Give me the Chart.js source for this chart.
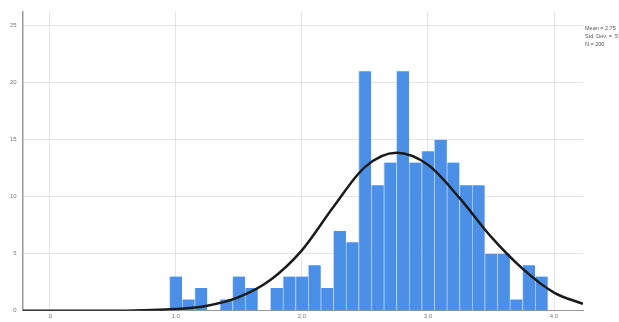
<!DOCTYPE html>
<html>
<head>
<meta charset="utf-8">
<script src="https://cdn.jsdelivr.net/npm/chart.js@4.4.1/dist/chart.umd.min.js"></script>
<style>
  body { margin: 0; background: #fff; }
  #wrap { position: relative; width: 619px; height: 322px; }
  #stats {
    position: absolute; left: 585px; top: 24px;
    font-family: "Liberation Sans", Arial, sans-serif;
    font-size: 5.5px; line-height: 8px; color: #555; white-space: nowrap;
  }
</style>
</head>
<body>
<div id="wrap">
  <canvas id="histChart" width="619" height="322"></canvas>
  <div id="stats">Mean = 2.75<br>Std. Dev. = .576<br>N = 200</div>
</div>
<script>
// ビンの中心値と度数
const binCenters = [1.0, 1.1, 1.2, 1.3, 1.4, 1.5, 1.6, 1.7, 1.8, 1.9,
                    2.0, 2.1, 2.2, 2.3, 2.4, 2.5, 2.6, 2.7, 2.8, 2.9,
                    3.0, 3.1, 3.2, 3.3, 3.4, 3.5, 3.6, 3.7, 3.8, 3.9];
const counts = [3, 1, 2, 0, 1, 3, 2, 0, 2, 3,
                3, 4, 2, 7, 6, 21, 11, 13, 21, 13,
                14, 15, 13, 11, 11, 5, 5, 1, 4, 3];

// 正規曲線（図から読み取った点）
const curveX = [-0.214, 0, 0.25, 0.5, 0.75, 1.0, 1.25, 1.5, 1.75, 2.0,
                2.25, 2.5, 2.75, 3.0, 3.25, 3.5, 3.75, 4.0, 4.23];
const curveY = [0, 0, 0, 0, 0.05, 0.15, 0.45, 1.2, 2.7, 5.3,
                9.1, 12.6, 13.85, 12.8, 9.9, 6.5, 3.7, 1.6, 0.6];

// 目盛り
const xTickValues = [0, 1, 2, 3, 4];
const xTickLabels = ['.0', '1.0', '2.0', '3.0', '4.0'];
const yTickValues = [0, 5, 10, 15, 20, 25];

const tickFont = { family: 'Liberation Sans', size: 6 };

const ctx = document.getElementById('histChart').getContext('2d');

new Chart(ctx, {
  type: 'bar',
  data: {
    datasets: [{
      type: 'line',
      data: curveX.map((x, i) => ({ x: x, y: curveY[i] })),
      borderColor: '#1b1b1b',
      borderWidth: 2.5,
      pointRadius: 0,
      cubicInterpolationMode: 'monotone',
      fill: false,
      order: 0
    }, {
      type: 'bar',
      data: binCenters.map((x, i) => ({ x: x, y: counts[i] })),
      backgroundColor: '#4b8fe7',
      borderColor: 'rgba(150,190,245,0.6)',
      borderWidth: { left: 1, right: 0, top: 0, bottom: 0 },
      barPercentage: 1,
      categoryPercentage: 1,
      grouped: false,
      order: 1
    }]
  },
  options: {
    responsive: false,
    animation: false,
    layout: { padding: { left: 4, right: 36, top: 12, bottom: 0 } },
    scales: {
      x: {
        type: 'linear',
        min: -0.214,
        max: 4.23,
        offset: false,
        afterBuildTicks: scale => { scale.ticks = xTickValues.map(v => ({ value: v })); },
        ticks: {
          font: tickFont,
          color: '#777',
          padding: 2,
          maxRotation: 0,
          callback: (v, i) => xTickLabels[i]
        },
        grid: { color: '#e4e4e4', drawTicks: false, offset: false },
        border: { color: '#999', width: 1 }
      },
      y: {
        min: 0,
        max: 26.2,
        afterBuildTicks: scale => { scale.ticks = yTickValues.map(v => ({ value: v })); },
        ticks: { font: tickFont, color: '#777', padding: 6 },
        grid: { color: '#e4e4e4', drawTicks: false },
        border: { color: '#999', width: 1.5 }
      }
    },
    plugins: {
      legend: { display: false },
      tooltip: { enabled: false }
    }
  }
});
</script>
</body>
</html>
